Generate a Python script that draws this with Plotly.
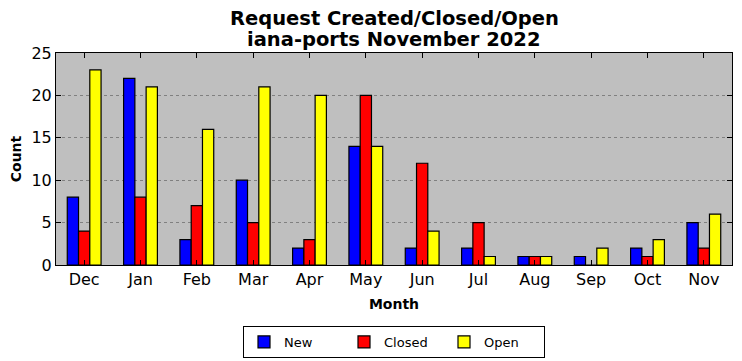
import plotly.graph_objects as go

months = ["Dec", "Jan", "Feb", "Mar", "Apr", "May", "Jun", "Jul", "Aug", "Sep", "Oct", "Nov"]
new_vals = [8, 22, 3, 10, 2, 14, 2, 2, 1, 1, 2, 5]
closed_vals = [4, 8, 7, 5, 3, 20, 12, 5, 1, 0, 1, 2]
open_vals = [23, 21, 16, 21, 20, 14, 4, 1, 1, 2, 3, 6]
title_lines = ["Request Created/Closed/Open", "iana-ports November 2022"]

xs = list(range(len(months)))
font = "DejaVu Sans"

fig = go.Figure()
for name, vals, color in [("New", new_vals, "#0000ff"),
                          ("Closed", closed_vals, "#ff0000"),
                          ("Open", open_vals, "#ffff00")]:
    fig.add_trace(go.Bar(x=xs, y=vals, name=name,
                         marker=dict(color=color, line=dict(color="black", width=1.2))))

for i, line in enumerate(title_lines):
    fig.add_annotation(text="<b>" + line + "</b>", xref="paper", yref="paper",
                       x=0.5, y=1 + (35 - 22 * i) / 212, xanchor="center", yanchor="middle",
                       showarrow=False, font=dict(size=19.5, family=font, color="black"))

fig.update_layout(
    width=742, height=361,
    margin=dict(l=56, r=10, t=53, b=96, autoexpand=False),
    paper_bgcolor="white", plot_bgcolor="#bfbfbf",
    barmode="group", bargap=0.4, bargroupgap=0,
    font=dict(family=font, color="black"),
    showlegend=True,
    legend=dict(orientation="h", x=394 / 742, xanchor="center", xref="container",
                y=1 - 326 / 361, yanchor="top", yref="container",
                bordercolor="black", borderwidth=1, bgcolor="white",
                font=dict(size=13, family=font), itemwidth=30, traceorder="normal",
                entrywidth=55, entrywidthmode="pixels", tracegroupgap=0),
)
fig.update_xaxes(
    range=[-0.5, 11.5], tickvals=xs, ticktext=months,
    ticks="inside", ticklen=5, tickcolor="black", mirror="ticks",
    showline=True, linecolor="black", linewidth=1,
    showgrid=False, zeroline=False, automargin=False,
    tickfont=dict(size=16, family=font),
    title=dict(text="<b>Month</b>", font=dict(size=14, family=font), standoff=10),
)
fig.update_yaxes(
    range=[0, 25], tickvals=[0, 5, 10, 15, 20, 25],
    ticks="inside", ticklen=5, tickcolor="black", mirror="ticks",
    showline=True, linecolor="black", linewidth=1,
    showgrid=True, gridcolor="#808080", griddash="dot", gridwidth=1,
    zeroline=False, automargin=False,
    tickfont=dict(size=16, family=font),
    title=dict(text="<b>Count</b>", font=dict(size=14, family=font), standoff=6),
)

fig.write_html("out.html", config={"displayModeBar": False},
               post_script="document.body.style.margin='0';document.body.style.overflow='hidden';")
